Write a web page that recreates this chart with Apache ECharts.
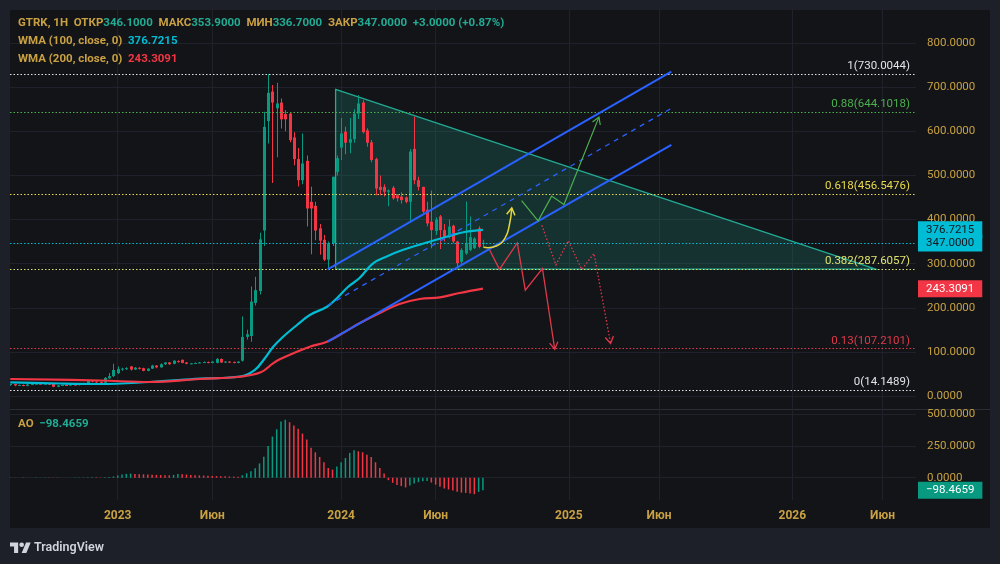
<!DOCTYPE html>
<html><head><meta charset="utf-8">
<script src="https://cdn.jsdelivr.net/npm/echarts@6/dist/echarts.min.js"></script>
<style>
html,body{margin:0;padding:0;background:#1d2029;width:1000px;height:564px;overflow:hidden}
#panel{position:absolute;left:10px;top:10px;width:980px;height:518px;background:#131417}
#sep{position:absolute;left:10px;top:409px;width:980px;height:1px;background:#2a2d36}
#chart{position:absolute;left:0;top:0;width:1000px;height:564px}
#logo{position:absolute;left:10px;top:538px;height:16px;display:flex;align-items:center;font-family:Roboto,"Noto Sans",sans-serif;font-size:12.5px;font-weight:600;color:#d1d4dc}
#logo svg{margin-right:3px}
</style></head><body>
<div id="panel"></div><div id="sep"></div>
<div id="chart"></div>
<div id="logo"><svg width="21" height="13" viewBox="0 0 36 22"><path d="M14 22H7V11H0V4h14v18z" fill="#d1d4dc"/><circle cx="20" cy="8" r="4" fill="#d1d4dc"/><path d="M28 22h-8l7.5-18h8L28 22z" fill="#d1d4dc"/></svg>TradingView</div>
<script>
// ---------- DATA ----------
const firstWeek = '2022-07-11';   // weekly candles (Mondays)
const open  = [25,27,24,25,23,26,27,28,27,28,29,21,24,25,24,26,25,27,29,35,33,32,30,40,45,52,61,62,67,60,64,63,57,62,69,65,72,76,73,79,82,76,73,74,75,76,77,75,75,84,76,78,77,75,80,134,136,211,238,375,623,690,652,665,639,640,586,537,489,533,440,431,380,354,309,346,508,563,599,574,582,640,665,602,575,537,474,474,463,472,455,452,450,440,560,489,474,422,395,374,407,376,361,386,350,304,323,331,335,380,346.1];
const high  = [28,28,26,26,27,28,30,29,29,29,30,25,26,26,27,27,28,30,36,36,34,33,43,52,73,67,64,65,68,66,65,64,63,71,70,74,77,77,81,81,83,77,75,76,77,78,78,79,86,85,79,79,78,79,180,150,248,270,370,644,730,705,710,674,648,642,598,562,595,545,474,440,390,365,350,497,545,630,610,630,650,682,670,607,580,540,500,480,468,476,458,462,452,560,633,497,474,440,466,405,410,390,400,388,352,335,441,407,360,385,353.9];
const low   = [23,22,23,22,22,25,26,26,26,25,20,20,23,23,23,24,24,26,28,31,30,29,29,39,43,50,57,59,58,59,60,56,56,61,63,64,70,71,72,76,74,72,72,73,74,75,74,74,74,75,75,75,74,74,78,128,123,205,230,340,572,483,541,606,600,575,523,475,480,384,321,353,320,306,290,340,500,535,548,550,574,628,595,565,530,455,455,452,430,445,441,436,437,395,480,466,414,385,335,365,333,350,357,346,290,300,320,328,333,335,336.7];
const close = [27,24,25,23,26,27,28,27,28,27,21,24,25,24,26,25,27,29,35,33,32,30,41,45,59,61,62,63,60,64,62,57,62,69,65,72,76,72,80,78,75,73,74,75,76,77,75,78,84,76,78,76,75,78,134,140,214,240,355,610,687,665,663,627,627,580,537,489,527,425,425,375,352,309,346,497,539,595,574,582,640,663,598,574,535,470,467,463,466,448,448,444,440,554,489,474,418,391,376,400,376,361,384,350,301,331,346,360,357,338,347];
const ao    = [2,1,-1,-2,-1,0,1,1,2,1,-1,-2,-1,-1,0,1,1,2,3,4,3,2,3,5,10,18,25,30,33,30,28,27,25,24,22,21,20,19,22,30,27,25,22,20,18,17,15,14,13,12,11,10,9,8,20,35,52,74,113,166,251,325,383,444,458,439,413,386,349,302,236,201,164,122,77,64,88,122,156,196,217,209,201,182,164,122,77,34,-19,-40,-58,-66,-77,-62,-45,-35,-28,-25,-38,-55,-72,-85,-93,-100,-110,-118,-120,-125,-130,-112,-98.4659];

const wma100 = [['2022-07-11',31.0],['2022-09-30',28.3],['2022-12-04',27.2],['2023-02-23',31.7],['2023-05-16',39.2],['2023-07-20',44.2],['2023-08-13',58.9],['2023-08-30',86.1],['2023-09-12',111],['2023-09-28',133.7],['2023-10-21',160.9],['2023-11-11',183.6],['2023-12-09',202.4],['2023-12-25',221.4],['2024-01-12',247],['2024-01-31',267.4],['2024-02-22',300.7],['2024-03-17',317.3],['2024-04-10',330.9],['2024-05-24',349.7],['2024-06-21',361],['2024-07-20',371.7],['2024-08-19',376.7215]];
const wma200 = [['2022-07-11',38.5],['2022-12-04',35.1],['2023-02-23',31.7],['2023-05-16',38.5],['2023-07-20',43.7],['2023-08-23',53.7],['2023-09-12',74.1],['2023-09-23',83.2],['2023-10-21',100.4],['2023-11-11',111.7],['2023-12-09',123.1],['2024-01-04',142.8],['2024-01-31',164.8],['2024-03-04',188.1],['2024-04-05',208.5],['2024-05-08',219.8],['2024-06-10',223.7],['2024-07-12',233.4],['2024-08-19',243.3091]];

const fibLevels = [
  {ratio:'1',     value:730.0044, color:'#e0e3eb'},
  {ratio:'0.88',  value:644.1018, color:'#4caf50'},
  {ratio:'0.618', value:456.5476, color:'#e8d94c'},
  {ratio:'0.382', value:287.6057, color:'#dfe36e'},
  {ratio:'0.13',  value:107.2101, color:'#e0384c'},
  {ratio:'0',     value:14.1489,  color:'#e0e3eb'}
];
const triangle     = [['2023-12-23',695],['2026-05-21',287.6],['2023-12-23',287.6]];
const channelUpper = [['2023-12-10',287],['2025-06-22',735]];
const channelMid   = [['2023-12-10',205],['2025-06-22',652]];
const channelLower = [['2023-12-10',123],['2025-06-22',569]];
const pathYellow   = [['2024-08-20',337],['2024-09-10',340],['2024-09-24',358],['2024-10-01',387],['2024-10-05',426]];
const pathGreen    = [['2024-10-21',443],['2024-11-17',397],['2024-12-09',453],['2024-12-29',434],['2025-02-24',632]];
const pathRed      = [['2024-08-30',331],['2024-09-15',287],['2024-10-14',347],['2024-10-27',240],['2024-11-24',289],['2024-12-14',106]];
const pathRedDot   = [['2024-11-23',387],['2024-12-16',297],['2025-01-05',352],['2025-01-27',287],['2025-02-16',323],['2025-03-15',119]];

const timeTicks      = ['2023-01-02','2023-06-05','2024-01-01','2024-06-03','2025-01-06','2025-06-02','2026-01-05','2026-06-01'];
const timeTickLabels = ['2023','Июн','2024','Июн','2025','Июн','2026','Июн'];
const priceTicks = [0,100,200,300,400,500,600,700,800];
const aoTicks = [0,250,500];
const lastClose = 347.0, lastWma100 = 376.7215, lastWma200 = 243.3091, lastAO = -98.4659;

// ---------- STYLE ----------
const UP='#089981', DOWN='#f23645', GOLD='#c9a143', TEAL='#22ab94', CYAN='#00bcd4', RED='#f23645';
const FONT='Roboto, "Noto Sans", sans-serif', FS=11.5;
const DAY = 86400e3;
const ts = s => Date.UTC(+s.slice(0,4), +s.slice(5,7)-1, +s.slice(8,10));
const xMin = ts('2022-07-10') + DAY/2, xMax = ts('2026-07-25') + DAY*0.6;
const tickTs = timeTicks.map(ts);
const toXY = arr => arr.map(p => [ts(p[0]), p[1]]);

const weeks = open.map((_, i) => ts(firstWeek) + i*7*DAY);
const candleData = open.map((o, i) => [weeks[i], o, close[i], low[i], high[i]]);
const aoData = ao.map((v, i) => ({value:[weeks[i], v], itemStyle:{color: (i===0 || v>=ao[i-1]) ? UP : DOWN}}));

function renderCandle(params, api){
  const t=api.value(0), o=api.value(1), c=api.value(2), l=api.value(3), h=api.value(4);
  const po=api.coord([t,o]), pc=api.coord([t,c]), pl=api.coord([t,l]), ph=api.coord([t,h]);
  const color = c>=o?UP:DOWN, w=3;
  const x = Math.round(po[0]);
  const top=Math.min(po[1],pc[1]), hh=Math.max(1,Math.abs(po[1]-pc[1]));
  return {type:'group', children:[
    {type:'rect', shape:{x:x, y:ph[1], width:1, height:Math.max(1,pl[1]-ph[1])}, style:{fill:color}},
    {type:'rect', shape:{x:x-1, y:top, width:w, height:hh}, style:{fill:color}}
  ]};
}

function shapeSeries(pts, style, opts){
  opts = opts || {};
  const P = toXY(pts);
  return {type:'custom', xAxisIndex:0, yAxisIndex:0, clip:true, silent:true, z:opts.z||5,
    data:P, encode:{x:0, y:1},
    renderItem(params, api){
      if (params.dataIndex !== 0) return null;
      const px = P.map(p => api.coord(p));
      const children = [];
      if (opts.polygon) {
        children.push({type:'polygon', shape:{points:px}, style:style});
      } else {
        children.push({type:'polyline', shape:{points:px, smooth:opts.smooth||0}, style:Object.assign({fill:null}, style)});
      }
      if (opts.arrow) {
        const a = px[px.length-1], b = px[px.length-2];
        const ang = Math.atan2(a[1]-b[1], a[0]-b[0]), s = 8;
        const p1 = [a[0]+s*Math.cos(ang+Math.PI-0.55), a[1]+s*Math.sin(ang+Math.PI-0.55)];
        const p2 = [a[0]+s*Math.cos(ang+Math.PI+0.55), a[1]+s*Math.sin(ang+Math.PI+0.55)];
        children.push({type:'polyline', shape:{points:[p1,a,p2]}, style:{stroke:style.stroke, lineWidth:style.lineWidth, fill:null}});
      }
      return {type:'group', children};
    }};
}

function priceTag(value, text, bg, fg){
  return {yAxis:value, lineStyle:{color:'rgba(0,0,0,0)', width:0},
    label:{show:true, position:'end', distance:2, formatter:text, backgroundColor:bg, color:fg,
      padding:[2,8,2,8], lineHeight:13, fontSize:FS, fontFamily:FONT}};
}

const fibMarks = fibLevels.map(f => ({yAxis:f.value,
  lineStyle:{color:f.color, type:[1.5,2], width:1.2},
  label:{show:true, position:'insideEndTop', distance:[6,2], formatter:f.ratio+'('+f.value.toFixed(4)+')',
    color:f.color, fontSize:FS, fontFamily:FONT}}));

const chart = echarts.init(document.getElementById('chart'), null, {renderer:'canvas'});
const axisLabelStyle = {color:GOLD, fontSize:FS, fontFamily:FONT};
const splitColor = '#1f222a';

function xAxisDef(grid, showLabels){
  return {type:'value', gridIndex:grid, min:xMin, max:xMax, axisLine:{show:false},
    axisTick:{show:false, customValues:tickTs},
    axisLabel:{show:showLabels, customValues:tickTs, margin:10, hideOverlap:false,
      formatter:v => { const k = tickTs.indexOf(v); const s = k>=0 ? timeTickLabels[k] : ''; return '{y|'+s+'}'; },
      rich:{y:{color:GOLD, fontSize:12, fontWeight:'bold', fontFamily:FONT}}},
    splitLine:{show:true, lineStyle:{color:splitColor, width:1}}};
}

chart.setOption({
  backgroundColor:'transparent',
  animation:false,
  title:[
    {left:18, top:17, padding:0, text:'{l|GTRK, 1H  ОТКР}{v|346.1000}{l|  МАКС}{v|353.9000}{l|  МИН}{v|336.7000}{l|  ЗАКР}{v|347.0000}{v|  +3.0000 (+0.87%)}',
      textStyle:{rich:{l:{color:GOLD, fontSize:FS, fontFamily:FONT}, v:{color:TEAL, fontSize:FS, fontFamily:FONT}}}},
    {left:18, top:35, padding:0, text:'{l|WMA (100, close, 0)  }{v|376.7215}',
      textStyle:{rich:{l:{color:GOLD, fontSize:FS, fontFamily:FONT}, v:{color:CYAN, fontSize:FS, fontFamily:FONT}}}},
    {left:18, top:53, padding:0, text:'{l|WMA (200, close, 0)  }{v|243.3091}',
      textStyle:{rich:{l:{color:GOLD, fontSize:FS, fontFamily:FONT}, v:{color:RED, fontSize:FS, fontFamily:FONT}}}},
    {left:18, top:418, padding:0, text:'{l|AO  }{v|−98.4659}',
      textStyle:{rich:{l:{color:GOLD, fontSize:FS, fontFamily:FONT}, v:{color:TEAL, fontSize:FS, fontFamily:FONT}}}}
  ],
  grid:[
    {left:10, right:84, top:10, height:400},
    {left:10, right:84, top:410, height:90}
  ],
  xAxis:[ xAxisDef(0, false), xAxisDef(1, true) ],
  yAxis:[
    {type:'value', gridIndex:0, position:'right', min:-31.7, max:874.8, axisLine:{show:false},
     axisTick:{show:false, customValues:priceTicks},
     axisLabel:Object.assign({customValues:priceTicks, margin:11, formatter:v=>v.toFixed(4)}, axisLabelStyle),
     splitLine:{show:true, lineStyle:{color:splitColor, width:1}}},
    {type:'value', gridIndex:1, position:'right', min:-176, max:535, axisLine:{show:false},
     axisTick:{show:false, customValues:aoTicks},
     axisLabel:Object.assign({customValues:aoTicks, margin:11, formatter:v=>v.toFixed(4)}, axisLabelStyle),
     splitLine:{show:true, lineStyle:{color:splitColor, width:1}}}
  ],
  series:[
    shapeSeries(triangle, {fill:'rgba(34,171,148,0.2)', stroke:'#22ab94', lineWidth:1.3}, {polygon:true, z:1}),
    {type:'line', name:'levels', xAxisIndex:0, yAxisIndex:0, data:[], silent:true, z:3,
     markLine:{silent:true, symbol:['none','none'], animation:false, data:fibMarks}},
    {type:'custom', name:'GTRK', xAxisIndex:0, yAxisIndex:0, data:candleData, renderItem:renderCandle, clip:true, silent:true, z:4,
     encode:{x:0, y:[1,2,3,4]},
     markLine:{silent:true, symbol:['none','none'], animation:false, data:[
       {yAxis:lastClose, lineStyle:{color:CYAN, type:[1.5,2], width:1.2}, label:{show:false}}
     ]}},
    {type:'line', name:'WMA100', xAxisIndex:0, yAxisIndex:0, data:toXY(wma100), smooth:0.4, showSymbol:false, silent:true, z:6,
     lineStyle:{color:CYAN, width:2.2},
     markLine:{silent:true, symbol:['none','none'], animation:false, data:[
       priceTag(lastWma100, '376.7215', CYAN, '#131722'),
       priceTag(lastClose, '347.0000', CYAN, '#131722')
     ]}},
    {type:'line', name:'WMA200', xAxisIndex:0, yAxisIndex:0, data:toXY(wma200), smooth:0.4, showSymbol:false, silent:true, z:6,
     lineStyle:{color:RED, width:2.2},
     markLine:{silent:true, symbol:['none','none'], animation:false, data:[
       priceTag(lastWma200, '243.3091', RED, '#ffffff')
     ]}},
    {type:'line', xAxisIndex:0, yAxisIndex:0, data:toXY(channelUpper), showSymbol:false, silent:true, z:7, lineStyle:{color:'#2962ff', width:2}},
    {type:'line', xAxisIndex:0, yAxisIndex:0, data:toXY(channelLower), showSymbol:false, silent:true, z:7, lineStyle:{color:'#2962ff', width:2}},
    {type:'line', xAxisIndex:0, yAxisIndex:0, data:toXY(channelMid), showSymbol:false, silent:true, z:7, lineStyle:{color:'#2962ff', width:1.3, type:[5,5]}},
    shapeSeries(pathYellow, {stroke:'#e5d63a', lineWidth:1.5}, {arrow:true, smooth:0.5, z:8}),
    shapeSeries(pathGreen, {stroke:'#4caf50', lineWidth:1.2}, {arrow:true, z:8}),
    shapeSeries(pathRed, {stroke:'#e0384c', lineWidth:1.3}, {arrow:true, z:8}),
    shapeSeries(pathRedDot, {stroke:'#e0384c', lineWidth:1.3, lineDash:[1.5,2]}, {arrow:true, z:8}),
    {type:'bar', name:'AO', xAxisIndex:1, yAxisIndex:1, data:aoData, barWidth:1.5, silent:true, z:4,
     markLine:{silent:true, symbol:['none','none'], animation:false, data:[
       priceTag(lastAO, '−98.4659', '#089981', '#ffffff')
     ]}}
  ]
});
</script></body></html>
